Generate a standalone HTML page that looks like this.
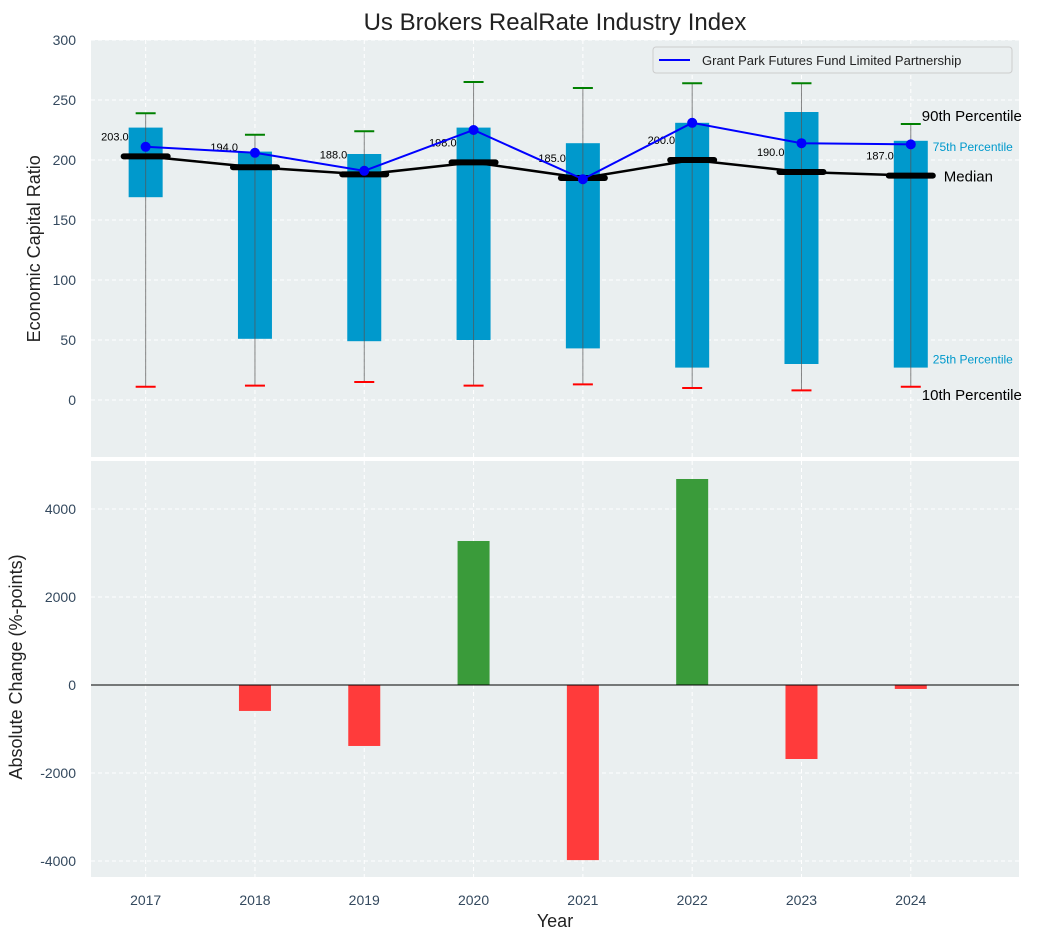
<!DOCTYPE html>
<html><head><meta charset="utf-8"><style>
body{margin:0;background:#fff;}
svg{display:block;font-family:"Liberation Sans",Arial,sans-serif;}
</style></head><body>
<svg id="chart" width="1043" height="940" viewBox="0 0 1043 940" xmlns="http://www.w3.org/2000/svg">
<text x="555" y="30" text-anchor="middle" font-size="24" fill="#222">Us Brokers RealRate Industry Index</text>
<g id="gtop"></g><g id="gbot"></g>
</svg>
<script>
const years = [2017,2018,2019,2020,2021,2022,2023,2024];
const p10 = [11,12,15,12,13,10,8,11];
const p25 = [169,51,49,50,43,27,30,27];
const medians = [203,194,188,198,185,200,190,187];
const p75 = [227,207,205,227,214,231,240,216];
const p90 = [239,221,224,265,260,264,264,230];
const fundValues = [211,206,191,225,184,231,214,213];
const changes = [0,-590,-1386,3273,-3980,4682,-1682,-90];
const topTicks = [0,50,100,150,200,250,300];
const botTicks = [-4000,-2000,0,2000,4000];

const NS="http://www.w3.org/2000/svg";
function mk(parent,tag,attrs,text){const e=document.createElementNS(NS,tag);for(const k in attrs)e.setAttribute(k,attrs[k]);if(text!==undefined)e.textContent=text;parent.appendChild(e);return e;}
const L=91,R=1019;
const xS=i=>L+(i+0.5)/8.49*(R-L);
const T0=40,T1=457,tMin=-47.5,tMax=300;
const yT=v=>T0+(tMax-v)/(tMax-tMin)*(T1-T0);
const B0=461,B1=877,bMin=-4364,bMax=5091;
const yB=v=>B0+(bMax-v)/(bMax-bMin)*(B1-B0);
const gTop=document.getElementById('gtop'), gBot=document.getElementById('gbot');

let e=mk(gTop,'rect',{x:L,y:T0,width:R-L,height:T1-T0,fill:'#eaeff0'});

e=mk(gBot,'rect',{x:L,y:B0,width:R-L,height:B1-B0,fill:'#eaeff0'});


topTicks.forEach(t=>{const y=yT(t);
 mk(gTop,'line',{x1:L,x2:R,y1:y,y2:y,stroke:'#fff','stroke-dasharray':'4,3','stroke-width':1});
 e=mk(gTop,'text',{x:76,y:y+5,'text-anchor':'end','font-size':14,fill:'#34495e'},String(t));
 
});
botTicks.forEach(t=>{const y=yB(t);
 mk(gBot,'line',{x1:L,x2:R,y1:y,y2:y,stroke:'#fff','stroke-dasharray':'4,3','stroke-width':1});
 e=mk(gBot,'text',{x:76,y:y+5,'text-anchor':'end','font-size':14,fill:'#34495e'},String(t));
 
});
years.forEach((yr,i)=>{const x=xS(i);
 mk(gTop,'line',{x1:x,x2:x,y1:T0,y2:T1,stroke:'#fff','stroke-dasharray':'4,3'});
 mk(gBot,'line',{x1:x,x2:x,y1:B0,y2:B1,stroke:'#fff','stroke-dasharray':'4,3'});
 e=mk(gBot,'text',{x:x,y:905,'text-anchor':'middle','font-size':14,fill:'#34495e'},String(yr));
 
});

years.forEach((yr,i)=>{const x=xS(i);
 e=mk(gTop,'rect',{x:x-17,y:yT(p75[i]),width:34,height:yT(p25[i])-yT(p75[i]),fill:'#0099cc'});
 
 mk(gTop,'line',{x1:x,x2:x,y1:yT(p90[i]),y2:yT(p10[i]),stroke:'#555','stroke-width':1,opacity:0.7});
 e=mk(gTop,'line',{x1:x-10,x2:x+10,y1:yT(p90[i]),y2:yT(p90[i]),stroke:'green','stroke-width':2});
 
 e=mk(gTop,'line',{x1:x-10,x2:x+10,y1:yT(p10[i]),y2:yT(p10[i]),stroke:'red','stroke-width':2});
 
});
e=mk(gTop,'polyline',{points:medians.map((m,i)=>xS(i)+','+yT(m)).join(' '),fill:'none',stroke:'#000','stroke-width':2.5});

medians.forEach((m,i)=>{const x=xS(i);
 e=mk(gTop,'line',{x1:x-22,x2:x+22,y1:yT(m),y2:yT(m),stroke:'#000','stroke-width':6,'stroke-linecap':'round'});
 
 e=mk(gTop,'text',{x:x-17,y:yT(m)-16,'text-anchor':'end','font-size':11,fill:'#000'},m.toFixed(1));
 
});
e=mk(gTop,'polyline',{points:fundValues.map((v,i)=>xS(i)+','+yT(v)).join(' '),fill:'none',stroke:'#0000ff','stroke-width':2});

fundValues.forEach((v,i)=>{e=mk(gTop,'circle',{cx:xS(i),cy:yT(v),r:5,fill:'#0000ff'});
 });

const li=7, lx=xS(li);
e=mk(gTop,'text',{x:lx+11,y:yT(p90[li])-3,'font-size':15,fill:'#000'},'90th Percentile');

e=mk(gTop,'text',{x:lx+22,y:yT(p75[li])+10,'font-size':12,fill:'#0099cc'},'75th Percentile');

e=mk(gTop,'text',{x:lx+33,y:yT(medians[li])+6,'font-size':15,fill:'#000'},'Median');

e=mk(gTop,'text',{x:lx+22,y:yT(p25[li])-4,'font-size':12,fill:'#0099cc'},'25th Percentile');

e=mk(gTop,'text',{x:lx+11,y:yT(p10[li])+13,'font-size':15,fill:'#000'},'10th Percentile');


e=mk(gTop,'rect',{x:653,y:47,width:359,height:26,rx:3,fill:'#eaeff0',stroke:'#ccc'});

mk(gTop,'line',{x1:659,x2:690,y1:60,y2:60,stroke:'#0000ff','stroke-width':2});
e=mk(gTop,'text',{x:702,y:65,'font-size':13,fill:'#222'},'Grant Park Futures Fund Limited Partnership');


changes.forEach((c,i)=>{const x=xS(i);const y0=yB(0),y1=yB(c);
 e=mk(gBot,'rect',{x:x-16,y:Math.min(y0,y1),width:32,height:Math.abs(y1-y0),fill:c>=0?'#3a9b3a':'#ff3b3b'});
 
});
mk(gBot,'line',{x1:L,x2:R,y1:yB(0),y2:yB(0),stroke:'#000','stroke-width':1});

e=mk(gTop,'text',{x:40,y:yT(126),'text-anchor':'middle','font-size':18,fill:'#222',transform:'rotate(-90 40 '+yT(126)+')'},'Economic Capital Ratio');

const by=(B0+B1)/2-2;
e=mk(gBot,'text',{x:22,y:by,'text-anchor':'middle','font-size':18,fill:'#222',transform:'rotate(-90 22 '+by+')'},'Absolute Change (%-points)');

e=mk(gBot,'text',{x:555,y:927,'text-anchor':'middle','font-size':18,fill:'#222'},'Year');

</script>
</body></html>
